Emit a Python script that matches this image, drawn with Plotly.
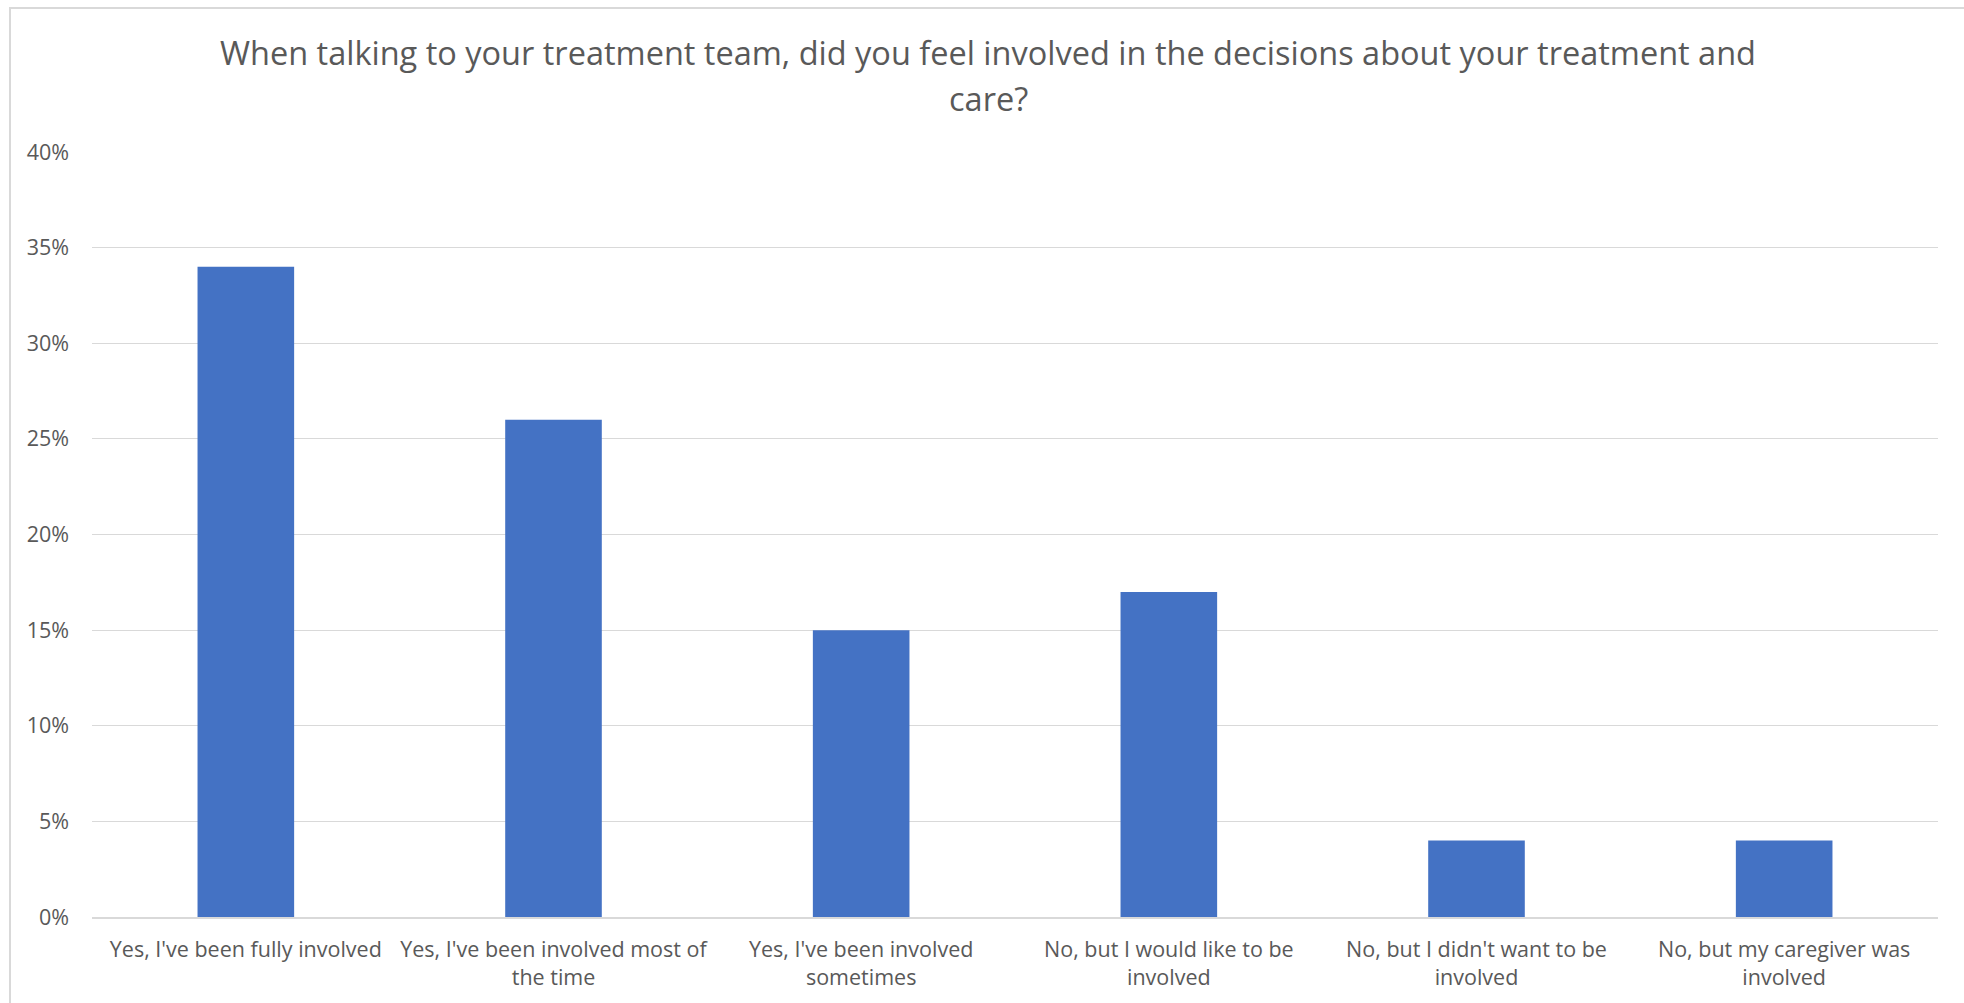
import plotly.graph_objects as go

# Survey responses
categories = [
    "Yes, I've been fully involved",
    "Yes, I've been involved most of<br>the time",
    "Yes, I've been involved<br>sometimes",
    "No, but I would like to be<br>involved",
    "No, but I didn't want to be<br>involved",
    "No, but my caregiver was<br>involved",
]
shares = [0.34, 0.26, 0.15, 0.17, 0.04, 0.04]
y_ticks = [0, 0.05, 0.10, 0.15, 0.20, 0.25, 0.30, 0.35, 0.40]
title_lines = [
    "When talking to your treatment team, did you feel involved in the decisions about your treatment and",
    "care?",
]

FONT = "Open Sans"
TEXT = "#595959"
GRID = "#D9D9D9"

W, H = 1964, 1003
L, R, T, B = 92, 26, 152, 86


def px_x(x):
    return (x - L) / (W - L - R)


def px_y(y):
    return (H - B - y) / (H - T - B)


fig = go.Figure(
    go.Bar(
        x=categories,
        y=shares,
        marker=dict(color="#4472C4", line=dict(width=0)),
        hoverinfo="x+y",
    )
)

fig.update_layout(
    width=W,
    height=H,
    margin=dict(l=L, r=R, t=T, b=B),
    paper_bgcolor="white",
    plot_bgcolor="white",
    bargap=0.686,
    showlegend=False,
    font=dict(family=FONT, color=TEXT),
)

fig.update_yaxes(
    range=[0, 0.4],
    tickvals=y_ticks,
    tickformat=".0%",
    showgrid=True,
    gridcolor=GRID,
    gridwidth=1,
    zeroline=False,
    showline=False,
    ticks="",
    ticklabelstandoff=22,
    tickfont=dict(size=21.5, color=TEXT, family=FONT),
)
fig.update_xaxes(
    showgrid=False,
    showline=True,
    linecolor=GRID,
    linewidth=1.5,
    ticks="",
    ticklabelstandoff=12,
    tickfont=dict(size=21.5, color=TEXT, family=FONT),
)

# Title, drawn as two lines
for text, py in zip(title_lines, [52, 98]):
    fig.add_annotation(
        text=text,
        xref="paper", yref="paper",
        x=px_x(988), y=px_y(py),
        xanchor="center", yanchor="middle",
        showarrow=False,
        font=dict(size=32.5, color=TEXT, family=FONT),
    )

# Chart-area outline
fig.add_shape(
    type="rect",
    xref="paper", yref="paper",
    x0=px_x(10), x1=px_x(W + 20),
    y0=px_y(8), y1=px_y(H + 20),
    line=dict(color=GRID, width=2),
    fillcolor="rgba(0,0,0,0)",
    layer="below",
)

fig.write_html("out.html")
